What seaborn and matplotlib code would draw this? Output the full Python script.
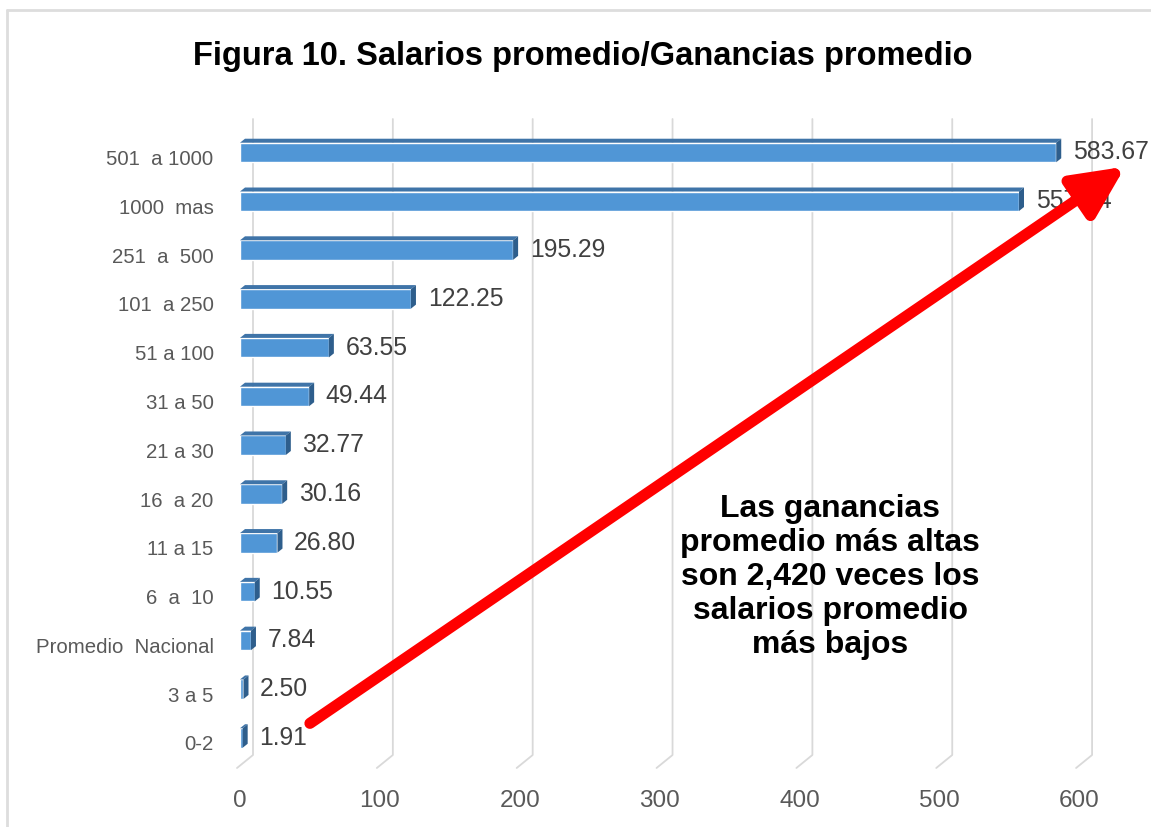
import matplotlib
matplotlib.use("Agg")
import matplotlib.pyplot as plt
import matplotlib.transforms as mtransforms
from matplotlib.patches import Polygon
from matplotlib.lines import Line2D
import seaborn as sns
import pandas as pd
import numpy as np

# ---- data ----
categories = ["501  a 1000", "1000  mas", "251  a  500", "101  a 250", "51 a 100",
              "31 a 50", "21 a 30", "16  a 20", "11 a 15", "6  a  10",
              "Promedio  Nacional", "3 a 5", "0-2"]
values = [583.67, 557.04, 195.29, 122.25, 63.55, 49.44, 32.77, 30.16, 26.80,
          10.55, 7.84, 2.50, 1.91]
x_ticks = [0, 100, 200, 300, 400, 500, 600]
title = "Figura 10. Salarios promedio/Ganancias promedio"
note = "Las ganancias\npromedio más altas\nson 2,420 veces los\nsalarios promedio\nmás bajos"

df = pd.DataFrame({"cat": categories, "val": values})

sns.set_theme(style="white")
plt.rcParams["font.family"] = ["Liberation Sans", "DejaVu Sans"]

W, H = 1151, 827
fig = plt.figure(figsize=(W / 100, H / 100), dpi=100)
fig.patch.set_facecolor("white")

# axes placement in pixels
ax_left, ax_right, ax_top, ax_bot = 240, 1149, 119, 768
ax = fig.add_axes([ax_left / W, 1 - ax_bot / H, (ax_right - ax_left) / W, (ax_bot - ax_top) / H])

front = "#5096D6"
topc = "#3F74A8"
sidec = "#2E5E8C"

sns.barplot(data=df, x="val", y="cat", orient="h", color=front, width=0.40,
            saturation=1, ax=ax, zorder=3)

ax.set_xlim(0, 650)
ax.set_ylim(12.615, -0.686)

for s in ax.spines.values():
    s.set_visible(False)
ax.set_xlabel("")
ax.set_ylabel("")
ax.set_xticks(x_ticks)
ax.set_xticklabels([str(t) for t in x_ticks])
ax.tick_params(axis="x", length=0, pad=16, labelsize=17.5, labelcolor="#595959")
ax.tick_params(axis="y", length=0, pad=19, labelsize=14.7, labelcolor="#595959")
for lab in ax.get_yticklabels():
    lab.set_transform(lab.get_transform() + mtransforms.ScaledTranslation(0, -5 / 100, fig.dpi_scale_trans))

# 3D-like gridlines (back wall + floor diagonal)
inv = ax.transData.inverted()
def to_data(px, py):
    return inv.transform((px, py))

for t in x_ticks:
    fx, fy = ax.transData.transform((t, 12.615))
    bx = fx + 13
    top_y = fy + (ax_bot - ax_top)
    by = fy + 13
    pts = [to_data(bx, top_y), to_data(bx, by), to_data(fx - 3, fy)]
    xs, ys = zip(*pts)
    ax.plot(xs, ys, color="#D9D9D9", lw=1.3, zorder=0, clip_on=False)

# 3D faces on bars
dx, dy = 5, 4
for p in ax.patches:
    x0, y0 = p.get_x(), p.get_y()
    w, h = p.get_width(), p.get_height()
    (lx, ty) = ax.transData.transform((x0, y0))
    (rx, by_) = ax.transData.transform((x0 + w, y0 + h))
    top_face = [to_data(lx, ty), to_data(rx, ty), to_data(rx + dx, ty + dy), to_data(lx + dx, ty + dy)]
    side_face = [to_data(rx, ty), to_data(rx + dx, ty + dy), to_data(rx + dx, by_ + dy), to_data(rx, by_)]
    ax.add_patch(Polygon(top_face, closed=True, facecolor=topc, edgecolor="none", zorder=3))
    ax.add_patch(Polygon(side_face, closed=True, facecolor=sidec, edgecolor="none", zorder=3))

ax.bar_label(ax.containers[0], fmt="%.2f", padding=12, fontsize=17.8, color="#404040")

# title
fig.text(583 / W, 1 - 56 / H, title, ha="center", va="center", fontsize=23.5,
         fontweight="bold", color="black")

# annotation text
ax.text(422, 8.7, note, ha="center", va="center", fontsize=23, fontweight="bold",
        color="black", linespacing=1.17, zorder=6)

# red arrow
ax.annotate("", xy=(633, 0.29), xytext=(50, 11.7),
            arrowprops=dict(arrowstyle="-|>,head_length=1.25,head_width=0.6",
                            color="#FF0000", lw=8, mutation_scale=25,
                            shrinkA=0, shrinkB=0),
            zorder=10, annotation_clip=False)

# figure border (light gray)
fig.add_artist(Line2D([7 / W, 7 / W], [0, 1 - 10 / H], transform=fig.transFigure,
                      color="#DDDDDD", lw=2))
fig.add_artist(Line2D([7 / W, 1], [1 - 10 / H, 1 - 10 / H], transform=fig.transFigure,
                      color="#DDDDDD", lw=2))

fig.savefig("out.png", dpi=100)
